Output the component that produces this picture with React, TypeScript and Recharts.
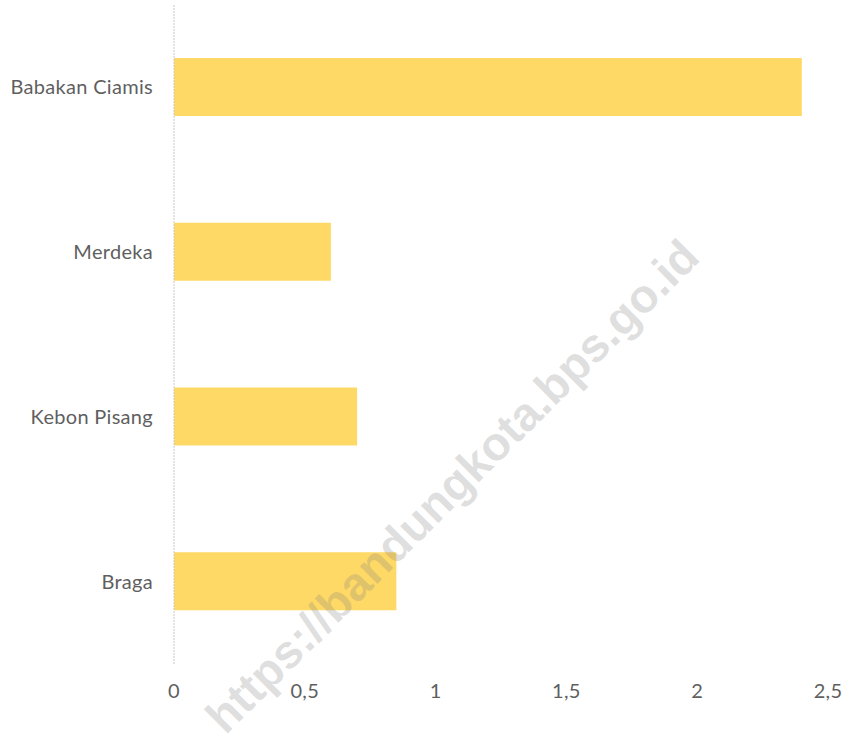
import { BarChart, Bar, XAxis, YAxis } from 'recharts'

const categories = ['Babakan Ciamis', 'Merdeka', 'Kebon Pisang', 'Braga']
const values = [2.4, 0.6, 0.7, 0.85]
const xTicks = [0, 0.5, 1, 1.5, 2, 2.5]

const data = categories.map((name, i) => ({ name, value: values[i] }))

const font = 'Lato, "Open Sans", sans-serif'
const tickStyle = { fill: '#5f5f5f', fontSize: 20, fontFamily: font, letterSpacing: 0.3 }

export default function App() {
  return (
    <div style={{ position: 'absolute', left: 0, top: 0, width: 849, height: 742, background: '#fff' }}>
      <BarChart
        width={849}
        height={742}
        data={data}
        layout="vertical"
        margin={{ top: 5, right: 21, bottom: 0, left: 0 }}
      >
        <XAxis
          type="number"
          domain={[0, 2.5]}
          ticks={xTicks}
          tickFormatter={v => String(v).replace('.', ',')}
          tick={tickStyle}
          axisLine={false}
          tickLine={false}
          tickSize={0}
          tickMargin={20}
          height={78}
        />
        <YAxis
          type="category"
          dataKey="name"
          width={174}
          tick={tickStyle}
          axisLine={{ stroke: '#c8c8c8', strokeDasharray: '2 1' }}
          tickLine={false}
          tickSize={0}
          tickMargin={21}
        />
        <Bar dataKey="value" fill="#FFD966" barSize={58} isAnimationActive={false} />
      </BarChart>
      {/* watermark */}
      <div
        style={{
          position: 'absolute',
          left: 452,
          top: 486,
          transform: 'translate(-50%, -50%) rotate(-45deg)',
          whiteSpace: 'nowrap',
          fontFamily: '"Liberation Sans", Arial, sans-serif',
          fontWeight: 'bold',
          fontSize: 47,
          color: 'rgba(128,128,128,0.25)',
          pointerEvents: 'none',
        }}
      >
        https://bandungkota.bps.go.id
      </div>
    </div>
  )
}
